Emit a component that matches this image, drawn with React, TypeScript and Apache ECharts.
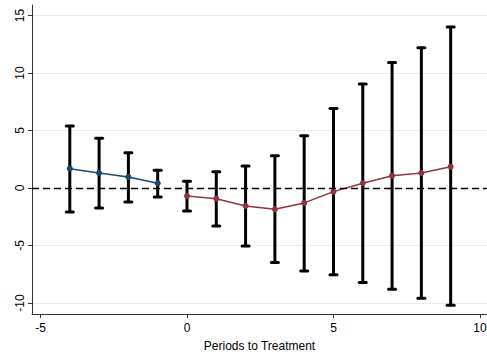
import React, { useEffect, useRef } from "react";
import * as echarts from "echarts";

const periods = [-4, -3, -2, -1, 0, 1, 2, 3, 4, 5, 6, 7, 8, 9];
const coef = [1.68, 1.3, 0.96, 0.41, -0.7, -0.93, -1.57, -1.85, -1.3, -0.32, 0.41, 1.07, 1.3, 1.85];
const ciLow = [-2.09, -1.74, -1.22, -0.78, -2.0, -3.3, -5.04, -6.49, -7.22, -7.54, -8.23, -8.81, -9.59, -10.2];
const ciHigh = [5.39, 4.32, 3.07, 1.54, 0.58, 1.42, 1.91, 2.81, 4.55, 6.9, 9.04, 10.9, 12.2, 14.0];
const yTicks = [-10, -5, 0, 5, 10, 15];
const xTicks = [-5, 0, 5, 10];
const xTitle = "Periods to Treatment";

export default function App() {
  const ref = useRef<HTMLDivElement>(null);
  useEffect(() => {
    if (!ref.current) return;
    const chart = echarts.init(ref.current, null, { renderer: "svg" });
    const pre = periods.map((p, i) => [p, coef[i]]).filter((d) => d[0] < 0);
    const post = periods.map((p, i) => [p, coef[i]]).filter((d) => d[0] >= 0);
    const bars = periods.map((p, i) => [p, ciLow[i], ciHigh[i]]);
    const font = "'Liberation Sans', Arial, sans-serif";
    chart.setOption({
      animation: false,
      backgroundColor: "#fff",
      grid: { left: 32, right: 0, top: 5, bottom: 38, outerBoundsMode: "none", containLabel: false },
      xAxis: {
        type: "value",
        min: -5.29,
        max: 10.24,
        name: xTitle,
        nameLocation: "middle",
        nameGap: 26,
        nameTextStyle: { color: "#000", fontSize: 12, fontFamily: font },
        axisLine: { show: true, onZero: false, lineStyle: { color: "#333", width: 1 } },
        axisTick: { show: true, length: 4, customValues: xTicks, lineStyle: { color: "#333" } },
        axisLabel: { customValues: xTicks, color: "#000", fontSize: 12, fontFamily: font, margin: 8 },
        splitLine: { show: false },
      },
      yAxis: {
        type: "value",
        min: -10.96,
        max: 15.91,
        axisLine: { show: true, onZero: false, lineStyle: { color: "#333", width: 1 } },
        axisTick: { show: true, length: 4, customValues: yTicks, lineStyle: { color: "#333" } },
        axisLabel: { customValues: yTicks, rotate: 90, color: "#000", fontSize: 12, fontFamily: font, margin: 6 },
        splitLine: { show: true, lineStyle: { color: "#e3edf0", width: 1 } },
      },
      series: [
        {
          type: "custom",
          z: 2,
          data: bars,
          renderItem: (params: any, api: any) => {
            const x = api.value(0);
            const lo = api.coord([x, api.value(1)]);
            const hi = api.coord([x, api.value(2)]);
            const hw = 3.5;
            const st = { stroke: "#000", lineWidth: 3, lineCap: "round" };
            return {
              type: "group",
              children: [
                { type: "line", shape: { x1: lo[0], y1: lo[1], x2: hi[0], y2: hi[1] }, style: { stroke: "#000", lineWidth: 3 } },
                { type: "line", shape: { x1: hi[0] - hw, y1: hi[1], x2: hi[0] + hw, y2: hi[1] }, style: st },
                { type: "line", shape: { x1: lo[0] - hw, y1: lo[1], x2: lo[0] + hw, y2: lo[1] }, style: st },
              ],
            };
          },
          markLine: {
            silent: true,
            symbol: "none",
            label: { show: false },
            lineStyle: { color: "#000", type: [7, 4], width: 1.3 },
            data: [{ yAxis: 0 }],
          },
        },
        {
          type: "line",
          z: 3,
          data: pre,
          symbol: "circle",
          symbolSize: 6,
          lineStyle: { color: "#1a476f", width: 1.5 },
          itemStyle: { color: "#1a476f" },
        },
        {
          type: "line",
          z: 3,
          data: post,
          symbol: "circle",
          symbolSize: 6,
          lineStyle: { color: "#90353b", width: 1.5 },
          itemStyle: { color: "#90353b" },
        },
      ],
    });
    return () => chart.dispose();
  }, []);
  return <div ref={ref} style={{ position: "fixed", left: 0, top: 0, width: 487, height: 352 }} />;
}
